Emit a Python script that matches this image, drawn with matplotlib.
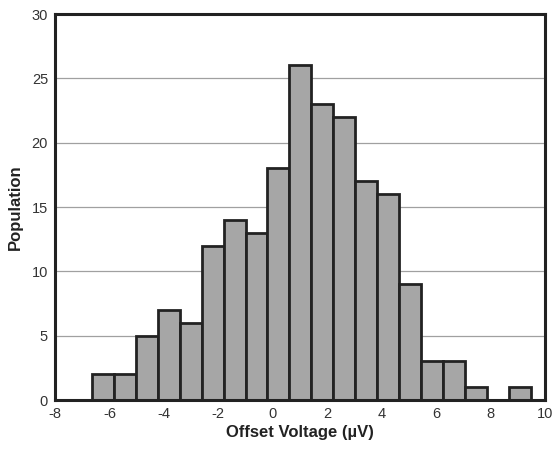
import matplotlib
matplotlib.use("Agg")
import matplotlib.pyplot as plt
import numpy as np

plt.rcParams['font.family'] = ['Liberation Sans', 'DejaVu Sans']
plt.rcParams['axes.unicode_minus'] = False

counts = [2, 2, 5, 7, 6, 12, 14, 13, 18, 26, 23, 22, 17, 16, 9, 3, 3, 1, 0, 1]
bin_start = -6.65
bin_width = 0.807
x_ticks = [-8, -6, -4, -2, 0, 2, 4, 6, 8, 10]
y_ticks = [0, 5, 10, 15, 20, 25, 30]

lefts = bin_start + bin_width * np.arange(len(counts))

fig = plt.figure(figsize=(5.55, 4.51), dpi=100)
ax = fig.add_axes([55/555, 51/451, 490/555, 386/451])

ax.bar(lefts, counts, width=bin_width, align='edge', color='#a6a6a6',
       edgecolor='#222222', linewidth=2.0, zorder=3)

ax.set_xlim(-8, 10)
ax.set_ylim(0, 30)
ax.set_xticks(x_ticks)
ax.set_yticks(y_ticks)
ax.tick_params(length=0, labelsize=10.5, colors='#333333', pad=5)
ax.yaxis.grid(True, color='#a0a0a0', linewidth=0.9, zorder=0)
for s in ax.spines.values():
    s.set_linewidth(2.2)
    s.set_color('#222222')
    s.set_zorder(4)

ax.set_xlabel('Offset Voltage (µV)', fontsize=12, fontweight='bold', color='#222222', labelpad=3)
ax.set_ylabel('Population', fontsize=12, fontweight='bold', color='#222222', labelpad=6)

fig.savefig('out.png', dpi=100)
